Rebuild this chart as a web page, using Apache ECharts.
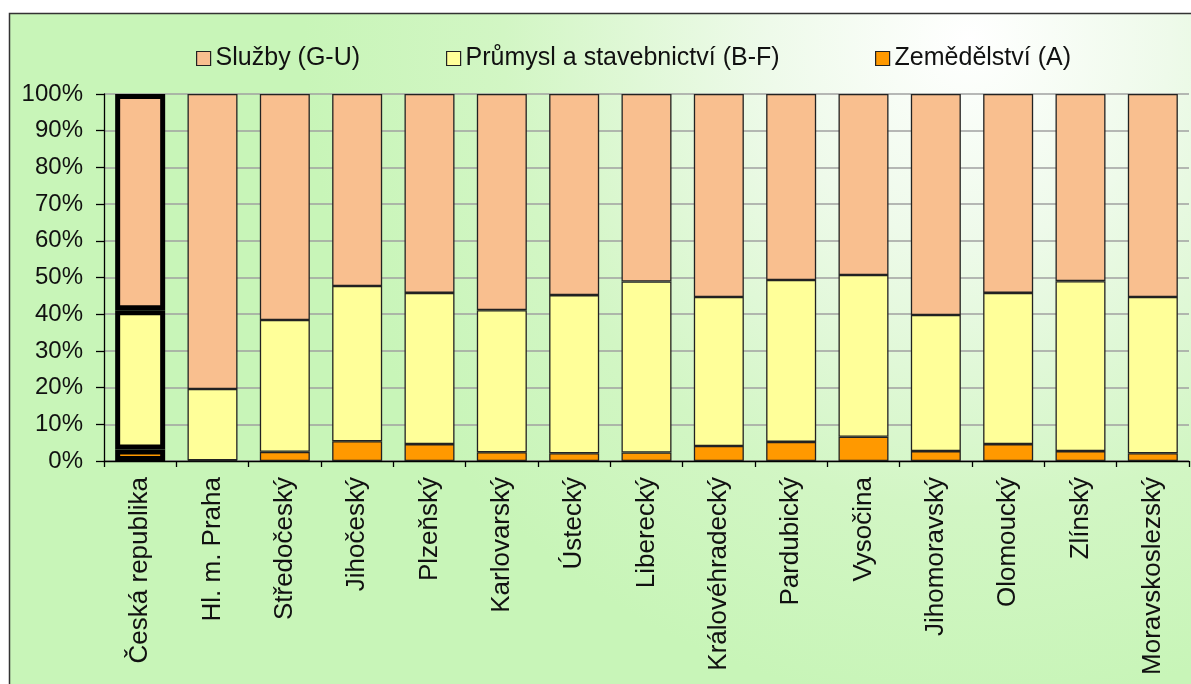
<!DOCTYPE html>
<html>
<head>
<meta charset="utf-8">
<script src="https://cdn.jsdelivr.net/npm/echarts@6/dist/echarts.min.js"></script>
<style>
  html, body { margin: 0; padding: 0; background: #fff; }
  #chart { width: 1191px; height: 684px; }
</style>
</head>
<body>
<div id="chart"></div>
<script>
// kraje
var kraje = ['Česká republika', 'Hl. m. Praha', 'Středočeský', 'Jihočeský', 'Plzeňský',
  'Karlovarský', 'Ústecký', 'Liberecký', 'Královéhradecký', 'Pardubický', 'Vysočina',
  'Jihomoravský', 'Olomoucký', 'Zlínský', 'Moravskoslezský'];

// podíly v %
var zemedelstvi = [3.1, 0.2, 2.5, 5.4, 4.6, 2.4, 2.1, 2.3, 4.1, 5.2, 6.6, 2.7, 4.6, 2.7, 2.1];
var prumysl     = [38.0, 19.4, 35.9, 42.3, 41.2, 38.7, 43.1, 46.6, 40.6, 44.1, 44.1, 37.1, 41.2, 46.3, 42.6];
var sluzby      = [58.9, 80.4, 61.6, 52.3, 54.2, 58.9, 54.8, 51.1, 55.3, 50.7, 49.3, 60.2, 54.2, 51.0, 55.3];

var yTicks = ['0%', '10%', '20%', '30%', '40%', '50%', '60%', '70%', '80%', '90%', '100%'];

var nazvy = ['Služby (G-U)', 'Průmysl a stavebnictví (B-F)', 'Zemědělství (A)'];
var barvy = ['#F9BF8F', '#FFFF99', '#FF9900'];
var legendX = [191, 441, 870];

var font = 'Liberation Sans, Arial, sans-serif';

// prvni sloupec (CR) ma tlusty okraj
function data(arr) {
  return arr.map(function (v, i) {
    if (i === 0) return { value: v, itemStyle: { borderWidth: 5, borderColor: '#000' } };
    return v;
  });
}

function serie(name, arr, color) {
  return {
    name: name,
    type: 'bar',
    stack: 'celkem',
    barWidth: 50,
    data: data(arr),
    itemStyle: { color: color, borderColor: '#222', borderWidth: 1.3 }
  };
}

var chart = echarts.init(document.getElementById('chart'));

var option = {
  backgroundColor: '#ffffff',
  animation: false,
  textStyle: { fontFamily: font },
  graphic: [{
    type: 'rect',
    z: -10,
    silent: true,
    shape: { x: 9.5, y: 13.5, width: 1200, height: 700 },
    style: {
      fill: {
        type: 'radial', x: 0.8, y: 0.04, r: 0.95,
        colorStops: [
          { offset: 0, color: '#ffffff' },
          { offset: 0.3, color: '#eefaea' },
          { offset: 0.7, color: '#d2f6c4' },
          { offset: 1, color: '#c8f5b8' }
        ]
      },
      stroke: '#333',
      lineWidth: 1.5
    }
  }],
  legend: nazvy.map(function (n, i) {
    return {
      data: [n],
      left: legendX[i],
      top: 41,
      itemWidth: 14,
      itemHeight: 14,
      icon: 'rect',
      itemStyle: { borderColor: '#222', borderWidth: 1.2 },
      textStyle: { fontSize: 25, color: '#111', fontFamily: font }
    };
  }),
  grid: { left: 104, right: 2, top: 94, bottom: 223, containLabel: false },
  xAxis: {
    type: 'category',
    data: kraje,
    axisLine: { lineStyle: { color: '#000', width: 1.3 } },
    axisTick: { show: true, length: 6, lineStyle: { color: '#000', width: 1.3 } },
    axisLabel: {
      rotate: 90,
      interval: 0,
      margin: 16,
      fontSize: 26,
      color: '#111',
      fontFamily: font
    }
  },
  yAxis: {
    type: 'value',
    min: 0,
    max: 100,
    interval: 10,
    axisLine: { show: true, lineStyle: { color: '#000', width: 1.3 } },
    axisTick: { show: true, length: 8, lineStyle: { color: '#000', width: 1.3 } },
    axisLabel: {
      margin: 21,
      fontSize: 24,
      color: '#111',
      fontFamily: font,
      formatter: function (v) { return yTicks[Math.round(v / 10)]; }
    },
    splitLine: { show: true, lineStyle: { color: '#a0a0a0', width: 1.7 } }
  },
  series: [
    serie(nazvy[2], zemedelstvi, barvy[2]),
    serie(nazvy[1], prumysl, barvy[1]),
    serie(nazvy[0], sluzby, barvy[0])
  ]
};

chart.setOption(option);
</script>
</body>
</html>
